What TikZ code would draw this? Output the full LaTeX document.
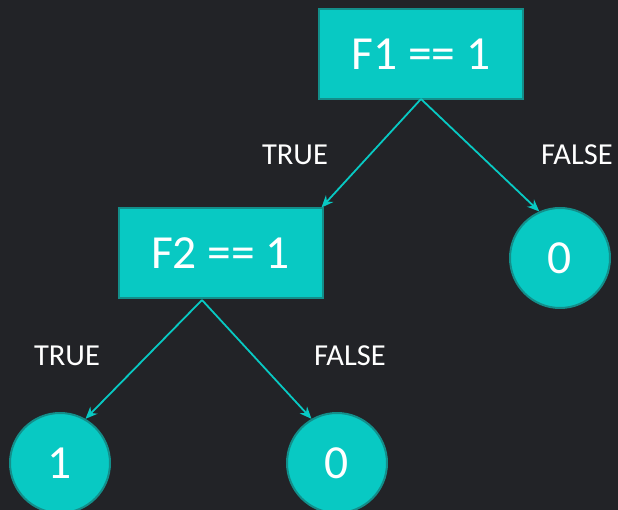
\documentclass[tikz,border=0pt]{standalone}
\usepackage{fontspec}
\setmainfont{Carlito}
\usepackage{xcolor}
\usetikzlibrary{positioning, arrows.meta}

\definecolor{bgdark}{HTML}{222327}
\definecolor{tealfill}{HTML}{08C9C3}
\definecolor{tealedge}{HTML}{138E8A}

\begin{document}
\begin{tikzpicture}[
  x=1pt, y=-1pt,
  every node/.style={font=\fontsize{47.5}{52}\selectfont, text=white},
  testbox/.style={draw=tealedge, fill=tealfill, line width=2pt,
                  minimum width=204pt, minimum height=90pt, inner sep=0pt},
  leaf/.style={circle, draw=tealedge, fill=tealfill, line width=2pt,
               minimum size=100pt, inner sep=0pt},
  edge/.style={-{Stealth[length=12pt,width=10pt]}, line width=1.8pt, draw=tealfill},
  branch/.style={font=\fontsize{30.5}{34}\selectfont, text=white, inner sep=0pt},
]

% --- background ---
\fill[bgdark] (0,0) rectangle (618,510);
\useasboundingbox (0,0) rectangle (618,510);

% --- tests ---
\node[testbox] (f1) at (421,54) {F1 == 1};
\node[testbox] (f2) at (220.5,253.5) {F2 == 1};
\coordinate (f1out) at (421,99);
\coordinate (f2out) at (202,300);

% --- leaves ---
\node[leaf] (r0) at (560,258) {0};
\node[leaf] (l1) at (60,463) {1};
\node[leaf] (l0) at (337,463) {0};

% --- edges ---
\draw[edge] (f1out) -- ([xshift=-2pt]f2.north east);
\draw[edge] (f1out) -- (r0.114);
\draw[edge] (f2out) -- (l1.60);
\draw[edge] (f2out) -- (l0.120);

% --- branch labels ---
\node[branch] (t1) at (295,155) {TRUE};
\node[branch] (fa1) at (577,155) {FALSE};
\node[branch] (t2) at (67,356) {TRUE};
\node[branch] (fa2) at (350,356) {FALSE};

\end{tikzpicture}
\end{document}
